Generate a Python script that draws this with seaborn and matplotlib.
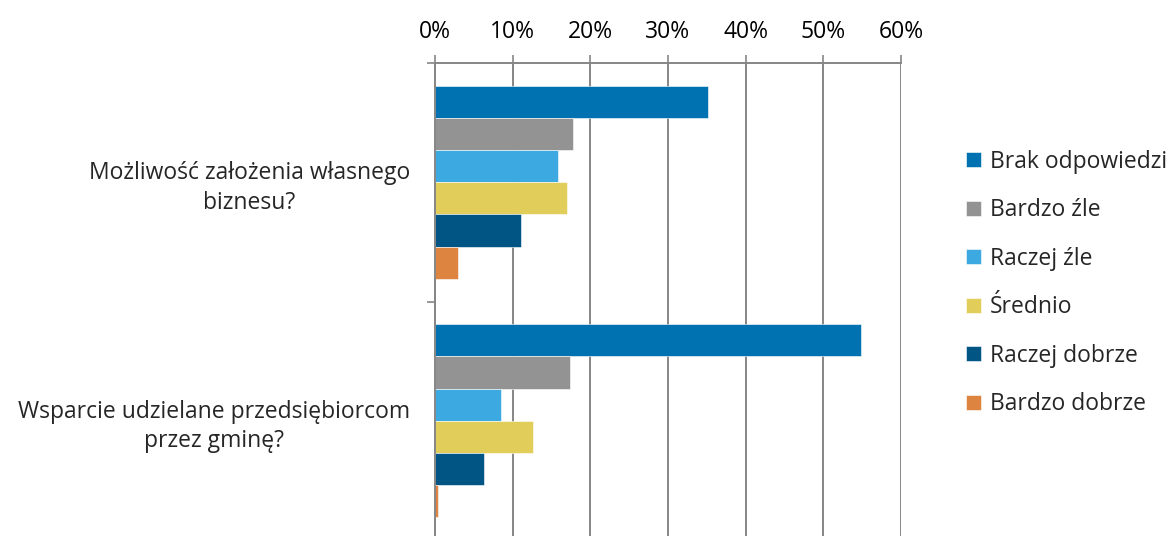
import matplotlib
matplotlib.use("Agg")
import matplotlib.pyplot as plt
from matplotlib.ticker import FuncFormatter, FixedLocator
import pandas as pd
import seaborn as sns

# chart data (share of answers, %)
categories = [
    "Możliwość założenia własnego\nbiznesu?",
    "Wsparcie udzielane przedsiębiorcom\nprzez gminę?",
]
series = ["Brak odpowiedzi", "Bardzo źle", "Raczej źle", "Średnio",
          "Raczej dobrze", "Bardzo dobrze"]
values_biznes = [35.2, 17.8, 15.9, 17.0, 11.1, 3.0]
values_wsparcie = [54.8, 17.4, 8.5, 12.6, 6.3, 0.35]
colors = ["#0071B1", "#939393", "#3CA9E0", "#E1CD59", "#005584", "#DC8440"]

rows = []
for cat, vals in zip(categories, [values_biznes, values_wsparcie]):
    for s, v in zip(series, vals):
        rows.append({"kategoria": cat, "odpowiedz": s, "procent": v})
df = pd.DataFrame(rows)

sns.set_style("white")
plt.rcParams["font.family"] = ["Open Sans", "DejaVu Sans"]
fs = 16.5

fig = plt.figure(figsize=(11.7, 5.36), dpi=100)
ax = fig.add_axes([435 / 1170, -4 / 536, (901 - 435) / 1170, (536 - 63 + 4) / 536])

sns.barplot(data=df, x="procent", y="kategoria", hue="odpowiedz",
            hue_order=series, order=categories, palette=colors,
            orient="h", width=0.81, saturation=1, ax=ax,
            edgecolor="white", linewidth=0.4)

grid_c = "#868686"
ax.set_xlim(0, 60)
ax.set_ylim(1.5, -0.5)
ax.xaxis.set_major_locator(FixedLocator(range(0, 61, 10)))
ax.xaxis.set_major_formatter(FuncFormatter(lambda v, p: f"{v:.0f}%"))
ax.xaxis.tick_top()
ax.grid(axis="x", color=grid_c, linewidth=1.4)
ax.set_axisbelow(True)
ax.tick_params(axis="x", top=True, direction="out", length=6, width=1.2,
               color=grid_c, labelsize=fs, pad=8, labelcolor="black")

ax.set_yticks([0, 1])
ax.set_yticklabels(categories, fontsize=fs, multialignment="center",
                   linespacing=1.3)
ax.set_yticks([-0.5, 0.5, 1.5], minor=True)
ax.tick_params(axis="y", which="major", length=0, pad=18)
ax.tick_params(axis="y", which="minor", left=True, direction="out",
               length=6, width=1.2, color=grid_c)

for side in ["right", "bottom"]:
    ax.spines[side].set_visible(False)
for side in ["top", "left"]:
    ax.spines[side].set_color(grid_c)
    ax.spines[side].set_linewidth(1.4)

ax.set_xlabel("")
ax.set_ylabel("")

handles, labels = ax.get_legend_handles_labels()
ax.legend(handles, labels, loc="center left",
          bbox_to_anchor=(966 / 1170, 1 - 283 / 536),
          bbox_transform=fig.transFigure, frameon=False, fontsize=fs,
          handlelength=0.65, handleheight=0.65, handletextpad=0.4,
          labelspacing=1.07, borderaxespad=0, borderpad=0)

fig.savefig("out.png", dpi=100)
